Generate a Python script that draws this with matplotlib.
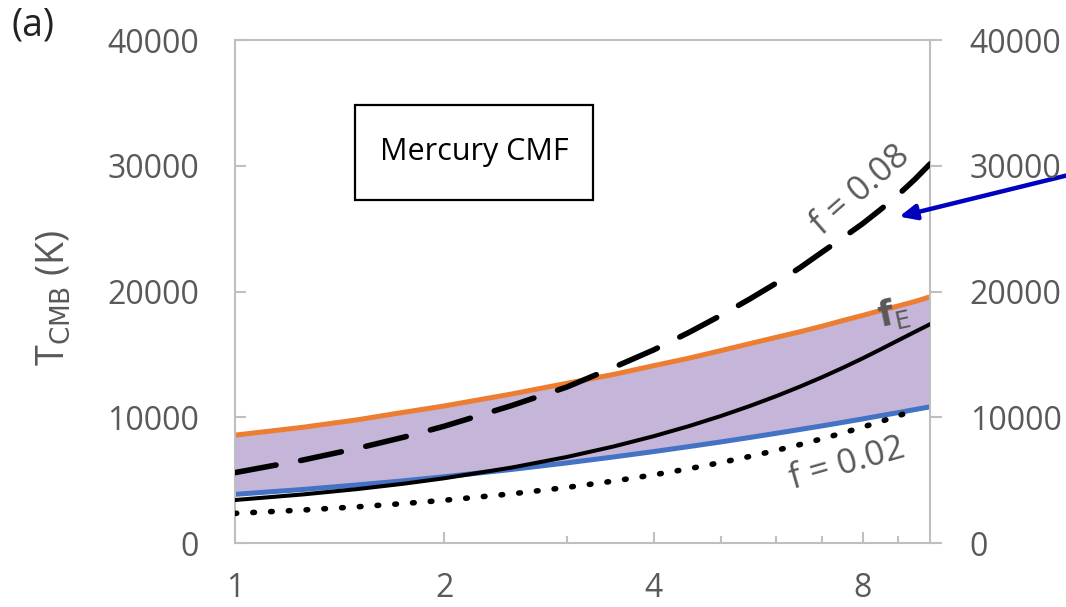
import numpy as np
import matplotlib
matplotlib.use("Agg")
import matplotlib.pyplot as plt
from matplotlib.patches import Rectangle

plt.rcParams['font.family'] = ['Open Sans', 'DejaVu Sans']

# Datos (masa relativa vs temperatura CMB)
masa = [1, 1.25, 1.5, 1.75, 2, 2.5, 3, 3.5, 4, 4.5, 5,
        5.5, 6, 6.5, 7, 7.5, 8, 8.5, 9, 9.5, 10]
t_sup = [8580, 9200, 9800, 10400, 10900, 11850, 12700, 13400, 14100, 14700, 15300,
         15850, 16350, 16800, 17250, 17700, 18100, 18500, 18850, 19200, 19580]
t_inf = [3870, 4255, 4620, 4950, 5270, 5850, 6370, 6840, 7270, 7670, 8040,
         8390, 8720, 9030, 9320, 9600, 9870, 10130, 10370, 10610, 10830]
t_fE = [3420, 3860, 4290, 4720, 5150, 6000, 6840, 7670, 8490, 9300, 10100,
        10890, 11670, 12440, 13200, 13950, 14690, 15420, 16120, 16780, 17400]
t_f008 = [5600, 6590, 7530, 8420, 9290, 10930, 12400, 13950, 15350, 16750, 18100,
          19400, 20650, 21900, 23150, 24300, 25400, 26550, 27700, 28900, 30150]
masa_f002 = [1, 1.25, 1.5, 1.75, 2, 2.5, 3, 3.5, 4, 4.5, 5,
             5.5, 6, 6.5, 7, 7.5, 8, 8.5, 9, 9.5]
t_f002 = [2360, 2620, 2880, 3140, 3400, 3910, 4420, 4920, 5420, 5910, 6400,
          6880, 7360, 7830, 8300, 8760, 9220, 9670, 10120, 10560]

y_ticks = [0, 10000, 20000, 30000, 40000]
x_major = [1, 2, 4, 8]
x_minor = [3, 5, 6, 7, 9]

gris = '#595959'
gris_eje = '#BFBFBF'

fig = plt.figure(figsize=(10.66, 6.07), dpi=100)
ax = fig.add_axes([0.2205, 0.1054, 0.652, 0.8287])

ax.fill_between(masa, t_inf, t_sup, color='#C4B5D9', lw=0, zorder=1)
ax.plot(masa, t_sup, color='#ED7D31', lw=3.6, zorder=2)
ax.plot(masa, t_inf, color='#4472C4', lw=3.6, zorder=2)
ax.plot(masa, t_fE, color='black', lw=2.9, zorder=3)
ax.plot(masa, t_f008, color='black', lw=4, linestyle=(0, (7.5, 4.5)),
        dash_capstyle='round', zorder=3)
ax.plot(masa_f002, t_f002, color='black', lw=4, linestyle=(0, (0.3, 2.9)),
        dash_capstyle='round', zorder=3)

ax.set_xscale('log', base=2)
ax.set_xlim(1, 10)
ax.set_ylim(0, 40000)
ax.set_xticks(x_major)
ax.set_xticklabels([str(v) for v in x_major])
ax.set_xticks(x_minor, minor=True)
ax.set_xticklabels([], minor=True)
ax.set_yticks(y_ticks)
ax.set_yticklabels([str(v) for v in y_ticks])

for s in ax.spines.values():
    s.set_color(gris_eje)
    s.set_linewidth(1.5)

ax.tick_params(axis='x', which='major', direction='in', length=8, width=1.5,
               color=gris_eje, labelsize=23, labelcolor=gris, pad=21)
ax.tick_params(axis='x', which='minor', direction='in', length=5, width=1.5,
               color=gris_eje)
ax.tick_params(axis='y', direction='in', length=8, width=1.5, color=gris_eje,
               labelsize=23, labelcolor=gris, pad=26)

ax2 = ax.twinx()
ax2.set_ylim(0, 40000)
ax2.set_yticks(y_ticks)
ax2.set_yticklabels([str(v) for v in y_ticks])
for s in ax2.spines.values():
    s.set_visible(False)
ax2.tick_params(axis='y', direction='out', length=8.5, width=1.5, color=gris_eje,
                labelsize=23, labelcolor=gris, pad=20)

# Etiquetas de las curvas
ax.text(7.95, 28000, "f = 0.08", rotation=41, color=gris, fontsize=25,
        ha='center', va='center')
ax.text(7.6, 6300, "f = 0.02", rotation=16, color=gris, fontsize=25,
        ha='center', va='center')
ax.text(8.85, 18200, r"$\mathbf{f}$$_{\mathrm{E}}$", rotation=12, color=gris,
        fontsize=25, ha='center', va='center')

# Recuadro "Mercury CMF"
ax.add_patch(Rectangle((0.173, 0.682), 0.342, 0.189, transform=ax.transAxes,
                       fill=False, edgecolor='black', lw=1.6, zorder=5))
ax.text(0.344, 0.777, "Mercury CMF", transform=ax.transAxes, fontsize=22,
        color='black', ha='center', va='center', zorder=6)

fig.text(0.05, 0.509, r"T$_{\mathrm{CMB}}$ (K)", rotation=90, color=gris,
         fontsize=27, ha='center', va='center')
fig.text(0.031, 0.958, "(a)", color='#222222', fontsize=27, ha='center', va='center')

# Flecha azul
ax.annotate("", xy=(0.841, 0.642), xycoords='figure fraction',
            xytext=(1.01, 0.715), textcoords='figure fraction',
            arrowprops=dict(arrowstyle='-|>,head_length=1.0,head_width=0.45',
                            color='#0000BF', lw=3.2))

fig.savefig("out.png", dpi=100)
